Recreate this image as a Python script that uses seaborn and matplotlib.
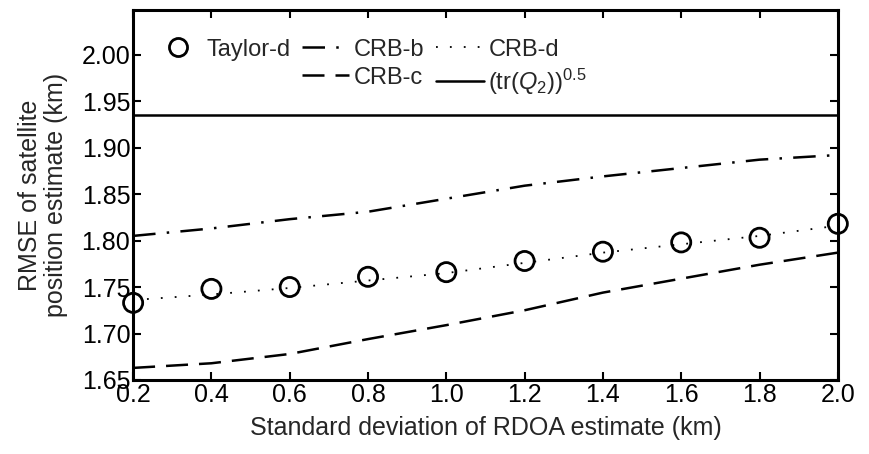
import numpy as np
import pandas as pd
import seaborn as sns
import matplotlib.pyplot as plt
from matplotlib.lines import Line2D

# values
sigma = [0.2, 0.4, 0.6, 0.8, 1.0, 1.2, 1.4, 1.6, 1.8, 2.0]
taylor_d = [1.733, 1.748, 1.750, 1.761, 1.766, 1.778, 1.788, 1.798, 1.803, 1.818]
crb_b = [1.805, 1.813, 1.823, 1.831, 1.845, 1.859, 1.869, 1.878, 1.887, 1.892]
crb_c = [1.663, 1.668, 1.678, 1.694, 1.709, 1.725, 1.744, 1.759, 1.774, 1.787]
crb_d = [1.736, 1.742, 1.749, 1.757, 1.765, 1.776, 1.787, 1.796, 1.805, 1.816]
trq2 = [1.935] * len(sigma)

df = pd.DataFrame({"sigma": sigma, "taylor_d": taylor_d, "crb_b": crb_b,
                   "crb_c": crb_c, "crb_d": crb_d, "trq2": trq2})

ls_b = (0, (9, 4.5, 1, 4.5))
ls_c = (0, (8.8, 4.4))
ls_d = (0, (1, 6.7))

sns.set_style("ticks")
plt.rcParams["font.family"] = ["Liberation Sans", "DejaVu Sans"]
plt.rcParams["mathtext.fontset"] = "custom"
plt.rcParams["mathtext.it"] = "Liberation Sans:italic"
plt.rcParams["mathtext.rm"] = "Liberation Sans"

fig = plt.figure(figsize=(8.7, 4.54), dpi=100)
ax = fig.add_axes([0.153, 0.163, 0.81, 0.815])

sns.lineplot(data=df, x="sigma", y="crb_b", ax=ax, color="black", lw=1.8,
             linestyle=ls_b)
sns.lineplot(data=df, x="sigma", y="crb_c", ax=ax, color="black", lw=1.8,
             linestyle=ls_c)
sns.lineplot(data=df, x="sigma", y="crb_d", ax=ax, color="black", lw=1.3,
             linestyle=ls_d)
sns.lineplot(data=df, x="sigma", y="trq2", ax=ax, color="black", lw=1.8)
sns.scatterplot(data=df, x="sigma", y="taylor_d", ax=ax, marker="o", s=190,
                facecolor="none", edgecolor="black", linewidth=2, zorder=5,
                clip_on=False)

ax.set_xlim(0.2, 2.0)
ax.set_ylim(1.65, 2.048)
ax.set_xticks(np.arange(0.2, 2.01, 0.2))
ax.set_xticklabels([f"{v:.1f}" for v in np.arange(0.2, 2.01, 0.2)])
ax.set_yticks(np.arange(1.65, 2.01, 0.05))
ax.set_yticklabels([f"{v:.2f}" for v in np.arange(1.65, 2.01, 0.05)])
ax.tick_params(direction="in", length=6, width=1.5, labelsize=18,
               top=True, right=True, colors="black", pad=2)
for s in ax.spines.values():
    s.set_linewidth(2.2)
    s.set_color("black")

ax.set_xlabel("Standard deviation of RDOA estimate (km)", fontsize=18, labelpad=7)
ax.set_ylabel("RMSE of satellite\nposition estimate (km)", fontsize=18, labelpad=10,
              linespacing=1.1)

handles = [
    Line2D([], [], marker="o", ls="none", mfc="none", mec="black", ms=13, mew=2),
    Line2D([], [], ls="none"),
    Line2D([], [], color="black", lw=1.8, ls=ls_b),
    Line2D([], [], color="black", lw=1.8, ls=ls_c),
    Line2D([], [], color="black", lw=1.3, ls=ls_d),
    Line2D([], [], color="black", lw=1.8),
]
labels = ["Taylor-d", "", "CRB-b", "CRB-c", "CRB-d", r"(tr($Q_2$))$^{0.5}$"]
ax.legend(handles, labels, ncol=3, frameon=False, loc="upper left",
          bbox_to_anchor=(0.0, 0.98), fontsize=17, handlelength=2.0,
          handletextpad=0.2, columnspacing=0.5, labelspacing=0.25)

fig.savefig("out.png", dpi=100)
